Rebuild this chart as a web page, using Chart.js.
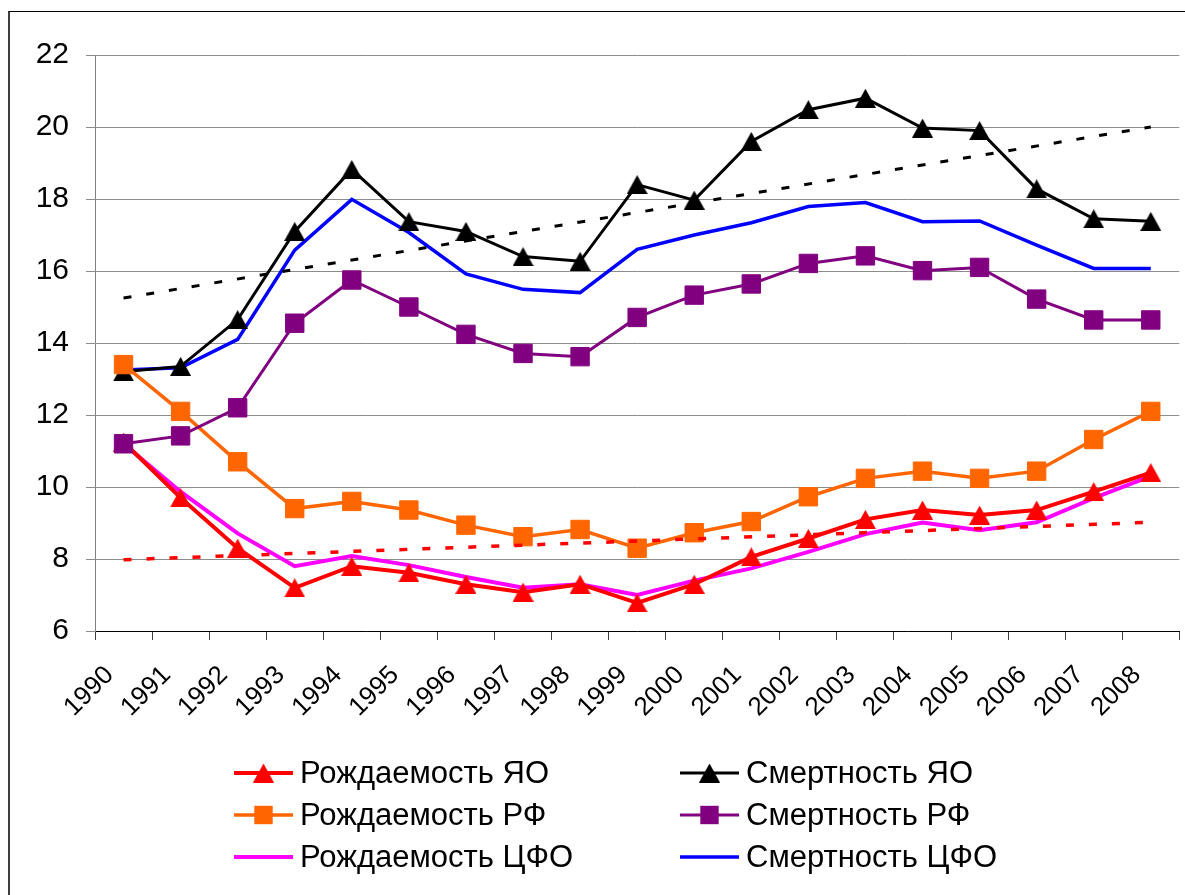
<!DOCTYPE html>
<html>
<head>
<meta charset="utf-8">
<script src="https://cdn.jsdelivr.net/npm/chart.js@4.4.1/dist/chart.umd.min.js"></script>
<style>
html,body{margin:0;padding:0;background:#fff;width:1185px;height:895px;overflow:hidden;}
#frame{position:absolute;left:8px;top:11px;width:1300px;height:1000px;border-left:2px solid #404040;border-top:1.5px solid #000;}
#wrap{position:absolute;left:0;top:0;width:1185px;height:895px;overflow:hidden;}
</style>
</head>
<body>
<div id="frame"></div>
<div id="wrap"><canvas id="c" width="1193" height="895"></canvas></div>
<script>
// ---- data ----
const years = ['1990','1991','1992','1993','1994','1995','1996','1997','1998','1999','2000','2001','2002','2003','2004','2005','2006','2007','2008'];
const yTicks = [6, 8, 10, 12, 14, 16, 18, 20, 22];
const birthYO  = [11.25, 9.7, 8.3, 7.2, 7.8, 7.62, 7.3, 7.08, 7.3, 6.78, 7.3, 8.06, 8.57, 9.1, 9.36, 9.22, 9.36, 9.87, 10.4];
const deathYO  = [13.2, 13.35, 14.65, 17.1, 18.82, 17.37, 17.1, 16.4, 16.27, 18.4, 17.97, 19.6, 20.48, 20.8, 19.97, 19.9, 18.28, 17.45, 17.38];
const birthRF  = [13.4, 12.1, 10.7, 9.4, 9.6, 9.36, 8.94, 8.62, 8.82, 8.3, 8.73, 9.04, 9.73, 10.24, 10.44, 10.24, 10.44, 11.32, 12.1];
const deathRF  = [11.2, 11.42, 12.2, 14.55, 15.75, 15.0, 14.24, 13.71, 13.62, 14.71, 15.33, 15.64, 16.21, 16.42, 16.01, 16.1, 15.22, 14.64, 14.64];
const birthCFO = [11.2, 9.87, 8.71, 7.8, 8.08, 7.83, 7.5, 7.2, 7.3, 7.0, 7.4, 7.74, 8.2, 8.69, 9.01, 8.8, 9.02, 9.69, 10.3];
const deathCFO = [13.25, 13.31, 14.1, 16.58, 17.99, 17.07, 15.92, 15.49, 15.4, 16.6, 17.0, 17.34, 17.79, 17.9, 17.37, 17.39, 16.72, 16.07, 16.07];
// linear trend lines (endpoints only)
const trendDeathYO = [15.25, null, null, null, null, null, null, null, null, null, null, null, null, null, null, null, null, null, 20.0];
const trendBirthYO = [7.98, null, null, null, null, null, null, null, null, null, null, null, null, null, null, null, null, null, 9.02];
const seriesNames = ['Рождаемость ЯО','Смертность ЯО','Рождаемость РФ','Смертность РФ','Рождаемость ЦФО','Смертность ЦФО'];

const FONT = '"Liberation Sans", Arial, sans-serif';

// triangle marker image, centred on its bounding box (like the original)
function triangleMarker(color, w, h) {
  const c = document.createElement('canvas');
  c.width = w; c.height = h;
  const g = c.getContext('2d');
  g.fillStyle = color;
  g.beginPath();
  g.moveTo(w / 2, 0);
  g.lineTo(w, h);
  g.lineTo(0, h);
  g.closePath();
  g.fill();
  return c;
}
const triRed = triangleMarker('#FF0000', 21, 19);
const triBlack = triangleMarker('#000000', 21, 19);

const datasets = [
  {label: seriesNames[0], data: birthYO, borderColor:'#FF0000', backgroundColor:'#FF0000', borderWidth:4,
   pointStyle: triRed, pointRadius:11, order:4},
  {label: seriesNames[1], data: deathYO, borderColor:'#000000', backgroundColor:'#000000', borderWidth:3,
   pointStyle: triBlack, pointRadius:11, order:3},
  {label: seriesNames[2], data: birthRF, borderColor:'#FF6600', backgroundColor:'#FF6600', borderWidth:3.5,
   pointStyle:'rect', pointRadius:13, pointBorderWidth:1, order:2},
  {label: seriesNames[3], data: deathRF, borderColor:'#800080', backgroundColor:'#800080', borderWidth:3,
   pointStyle:'rect', pointRadius:13, pointBorderWidth:1, order:1},
  {label: seriesNames[4], data: birthCFO, borderColor:'#FF00FF', backgroundColor:'#FF00FF', borderWidth:4,
   pointRadius:0, order:6},
  {label: seriesNames[5], data: deathCFO, borderColor:'#0000FF', backgroundColor:'#0000FF', borderWidth:3.5,
   pointRadius:0, order:5},
  {label: 'trend1', data: trendDeathYO, borderColor:'#000000', borderWidth:3, borderDash:[8,15],
   pointRadius:0, spanGaps:true, order:0},
  {label: 'trend2', data: trendBirthYO, borderColor:'#FF0000', borderWidth:3.5, borderDash:[8,15],
   pointRadius:0, spanGaps:true, order:0}
];

const legendLayout = [
  {ds:0, x:234, y:773}, {ds:1, x:680, y:773},
  {ds:2, x:234, y:815}, {ds:3, x:680, y:815},
  {ds:4, x:234, y:857}, {ds:5, x:680, y:857}
];

const legendPlugin = {
  id: 'customLegend',
  afterDraw(chart) {
    const ctx = chart.ctx;
    ctx.save();
    legendLayout.forEach(it => {
      const ds = chart.data.datasets[it.ds];
      const x1 = it.x, x2 = it.x + 59, y = it.y;
      ctx.setLineDash([]);
      ctx.strokeStyle = ds.borderColor;
      ctx.lineWidth = ds.borderWidth;
      ctx.beginPath(); ctx.moveTo(x1, y); ctx.lineTo(x2, y); ctx.stroke();
      const cx = (x1 + x2) / 2;
      ctx.fillStyle = ds.backgroundColor;
      if (ds.pointRadius > 0 && ds.pointStyle instanceof HTMLCanvasElement) {
        const im = ds.pointStyle;
        ctx.drawImage(im, cx - im.width / 2, y - im.height / 2);
      } else if (ds.pointStyle === 'rect' && ds.pointRadius > 0) {
        const s = ds.pointRadius * Math.SQRT1_2;
        ctx.fillRect(cx - s, y - s, 2 * s, 2 * s);
      }
      ctx.fillStyle = '#000';
      ctx.font = '31px ' + FONT;
      ctx.textBaseline = 'middle';
      ctx.textAlign = 'left';
      ctx.fillText(ds.label, x2 + 7, y + 1);
    });
    ctx.restore();
  }
};

new Chart(document.getElementById('c'), {
  type: 'line',
  data: { labels: years, datasets: datasets },
  plugins: [legendPlugin],
  options: {
    responsive: false,
    animation: false,
    devicePixelRatio: 1,
    layout: { autoPadding: false, padding: { left: 9, top: 55, right: 6, bottom: 164 } },
    plugins: { legend: { display: false }, tooltip: { enabled: false } },
    elements: { line: { tension: 0 } },
    scales: {
      x: {
        type: 'category',
        offset: true,
        afterFit(scale) { scale.height = 100; },
        grid: { offset: true, drawOnChartArea: false, drawTicks: true, tickLength: 9, color: '#404040', lineWidth: 1 },
        border: { color: '#000000', width: 1 },
        ticks: { autoSkip: false, minRotation: 45, maxRotation: 45, labelOffset: -14, padding: 20,
                 color: '#000', font: { family: FONT, size: 26 } }
      },
      y: {
        min: 6, max: 22,
        afterFit(scale) { scale.width = 86; },
        afterBuildTicks(scale) { scale.ticks = yTicks.map(v => ({ value: v })); },
        grid: { color: '#8c8c8c', lineWidth: 1, tickLength: 9, drawTicks: true },
        border: { color: '#808080', width: 1 },
        ticks: { padding: 17, color: '#000', font: { family: FONT, size: 30 } }
      }
    }
  }
});
</script>
</body>
</html>
